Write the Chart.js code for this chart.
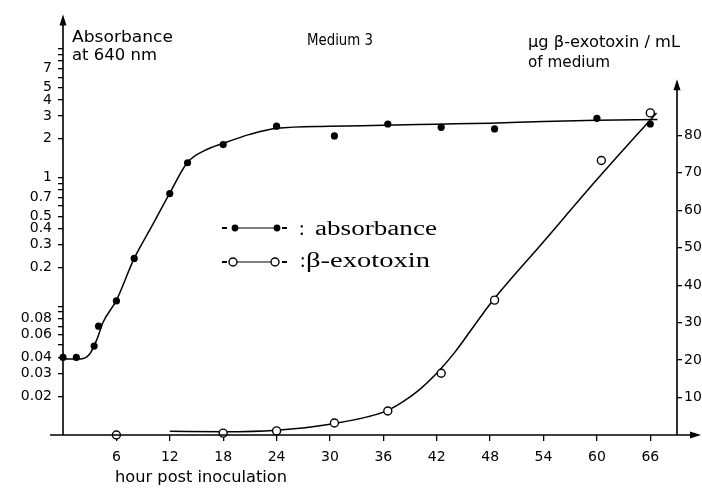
<!DOCTYPE html>
<html>
<head>
<meta charset="utf-8">
<script src="https://cdn.jsdelivr.net/npm/chart.js@4.4.0/dist/chart.umd.min.js"></script>
<style>
  html, body { margin: 0; padding: 0; background: #fff; }
  #wrap { width: 702px; height: 488px; }
</style>
</head>
<body>
<div id="wrap"><canvas id="chart" width="702" height="488"></canvas></div>
<script>
// absorbance readings (filled dots), left log axis
var absHours = [0, 1.5, 3.5, 4, 6, 8, 12, 14, 18, 24, 30.5, 36.5, 42.5, 48.5, 60, 66];
var absValues = [0.04, 0.04, 0.049, 0.07, 0.11, 0.235, 0.75, 1.3, 1.8, 2.5, 2.1, 2.6, 2.45, 2.38, 2.88, 2.6];

// the hand drawn absorbance curve
var absCurveHours = [0, 2, 3, 3.8, 4.5, 6, 8, 10, 12, 14, 16, 18, 21, 24, 30, 36, 42, 48, 54, 60, 66.8];
var absCurveValues = [0.039, 0.039, 0.0425, 0.055, 0.075, 0.111, 0.235, 0.42, 0.755, 1.31, 1.63, 1.84, 2.16, 2.41, 2.5, 2.54, 2.59, 2.64, 2.72, 2.78, 2.82];

// beta-exotoxin readings (open circles), right axis
var toxHours = [6, 18, 24, 30.5, 36.5, 42.5, 48.5, 60.5, 66];
var toxValues = [0, 0.5, 1.1, 3.2, 6.4, 16.5, 36, 73.3, 86];

// the exotoxin curve
var toxCurveHours = [12, 18, 24, 30, 36, 38, 40, 42, 44, 46, 48, 54, 60, 66.7];
var toxCurveValues = [1.0, 0.9, 1.3, 2.9, 6.1, 8.6, 12, 16.5, 22, 28.5, 35, 51.6, 68.2, 86];

// ticks
var hourTicks = [6, 12, 18, 24, 30, 36, 42, 48, 54, 60, 66];
var absTicks = [0.02, 0.03, 0.04, 0.05, 0.06, 0.07, 0.08, 0.09, 0.1,
                0.2, 0.3, 0.4, 0.5, 0.6, 0.7, 0.8, 0.9, 1,
                2, 3, 4, 5, 6, 7, 8, 9, 10];
var absTickLabels = ['0.02', '0.03', '0.04', '0.06', '0.08', '0.2', '0.3', '0.4', '0.5', '0.7',
                     '1', '2', '3', '4', '5', '7'];
var toxTicks = [10, 20, 30, 40, 50, 60, 70, 80];

var rightAxisEnd = 95;

var pairs = function (xs, ys) {
    return xs.map(function (x, i) { return {x: x, y: ys[i]}; });
};

var asTicks = function (list) {
    return function (scale) {
        scale.ticks = list.map(function (v) { return {value: v}; });
    };
};

// draw text squeezed/stretched to a given width
var fitText = function (ctx, str, x, y, font, width, align) {
    ctx.save();
    ctx.font = font;
    var w = ctx.measureText(str).width;
    var sx = width ? width / w : 1;
    ctx.translate(x, y);
    ctx.scale(sx, 1);
    ctx.textBaseline = 'alphabetic';
    ctx.textAlign = 'left';
    var dx = 0;
    if (align === 'center') dx = -w / 2;
    ctx.fillText(str, dx, 0);
    ctx.restore();
};

var arrowHead = function (ctx, x, y, dir) {
    ctx.beginPath();
    if (dir === 'up') {
        ctx.moveTo(x, y);
        ctx.lineTo(x - 3.5, y + 11);
        ctx.lineTo(x + 3.5, y + 11);
    } else {
        ctx.moveTo(x, y);
        ctx.lineTo(x - 11, y - 3.5);
        ctx.lineTo(x - 11, y + 3.5);
    }
    ctx.closePath();
    ctx.fill();
};

var figurePlugin = {
    id: 'figure',
    beforeDraw: function (chart) {
        var ctx = chart.ctx;
        ctx.save();
        ctx.fillStyle = '#fff';
        ctx.fillRect(0, 0, chart.width, chart.height);
        ctx.restore();
    },
    afterDraw: function (chart) {
        var ctx = chart.ctx;
        var a = chart.chartArea;
        var topR = chart.scales.yR.getPixelForValue(rightAxisEnd);
        ctx.save();
        ctx.strokeStyle = '#000';
        ctx.fillStyle = '#000';
        ctx.lineWidth = 1.6;

        ctx.beginPath();
        ctx.moveTo(a.left, a.bottom);
        ctx.lineTo(a.left, a.top + 6);
        ctx.moveTo(a.left - 13, a.bottom);
        ctx.lineTo(a.right + 16, a.bottom);
        ctx.moveTo(a.right, a.bottom);
        ctx.lineTo(a.right, topR + 6);
        ctx.stroke();
        arrowHead(ctx, a.left, a.top, 'up');
        arrowHead(ctx, a.right, topR, 'up');
        arrowHead(ctx, a.right + 24, a.bottom, 'right');

        var sans = '15px "DejaVu Sans"';
        fitText(ctx, 'Absorbance', 72, 42, sans, 101);
        fitText(ctx, 'at 640 nm', 72, 60, sans, 85);
        fitText(ctx, 'Medium 3', 340, 45, sans, 66, 'center');
        fitText(ctx, '\u00b5g \u03b2-exotoxin / mL', 528, 47, sans, 152);
        fitText(ctx, 'of medium', 528, 67, sans, 82);
        fitText(ctx, 'hour post inoculation', 115, 482, sans, 172);

        // legend
        ctx.lineWidth = 2;
        ctx.beginPath();
        ctx.moveTo(222, 228); ctx.lineTo(227, 228);
        ctx.moveTo(282, 228); ctx.lineTo(287, 228);
        ctx.moveTo(222, 262); ctx.lineTo(227, 262);
        ctx.moveTo(282, 262); ctx.lineTo(287, 262);
        ctx.stroke();
        ctx.lineWidth = 1;
        ctx.beginPath();
        ctx.moveTo(238, 228); ctx.lineTo(274, 228);
        ctx.moveTo(237, 262); ctx.lineTo(271, 262);
        ctx.stroke();
        ctx.beginPath();
        ctx.arc(235, 228, 3.4, 0, Math.PI * 2);
        ctx.arc(277, 228, 3.4, 0, Math.PI * 2);
        ctx.fill();
        ctx.lineWidth = 1.4;
        ctx.beginPath();
        ctx.arc(233, 262, 4, 0, Math.PI * 2);
        ctx.stroke();
        ctx.beginPath();
        ctx.arc(275, 262, 4, 0, Math.PI * 2);
        ctx.stroke();

        var serif = '20px "Liberation Serif"';
        fitText(ctx, ':', 299, 235, serif);
        fitText(ctx, 'absorbance', 315, 235, serif, 122);
        fitText(ctx, ':', 300, 267, serif);
        fitText(ctx, '\u03b2-exotoxin', 306, 267, serif, 124);
        ctx.restore();
    }
};

var tickGrid = function (len) {
    return {drawOnChartArea: false, drawTicks: true, tickLength: len, color: '#000', lineWidth: 1.3};
};

Chart.defaults.font.family = '"DejaVu Sans"';
Chart.defaults.color = '#000';

var ctx = document.getElementById('chart').getContext('2d');

new Chart(ctx, {
    type: 'line',
    data: {
        datasets: [
            {
                label: 'absorbance',
                data: pairs(absHours, absValues),
                yAxisID: 'yL',
                showLine: false,
                pointRadius: 3.6,
                pointBackgroundColor: '#000',
                pointBorderWidth: 0,
                clip: false
            },
            {
                label: 'beta-exotoxin',
                data: pairs(toxHours, toxValues),
                yAxisID: 'yR',
                showLine: false,
                pointRadius: 4,
                pointBackgroundColor: '#fff',
                pointBorderColor: '#000',
                pointBorderWidth: 1.4,
                clip: false
            },
            {
                label: 'absorbance curve',
                data: pairs(absCurveHours, absCurveValues),
                yAxisID: 'yL',
                borderColor: '#000',
                borderWidth: 1.5,
                pointRadius: 0,
                cubicInterpolationMode: 'monotone',
                fill: false,
                clip: false
            },
            {
                label: 'exotoxin curve',
                data: pairs(toxCurveHours, toxCurveValues),
                yAxisID: 'yR',
                borderColor: '#000',
                borderWidth: 1.5,
                pointRadius: 0,
                cubicInterpolationMode: 'monotone',
                fill: false,
                clip: false
            }
        ]
    },
    options: {
        responsive: false,
        animation: false,
        layout: {padding: {top: 14, left: 0, right: 0, bottom: 0}},
        plugins: {legend: {display: false}, tooltip: {enabled: false}},
        scales: {
            x: {
                type: 'linear',
                min: 0,
                max: 69,
                bounds: 'data',
                afterBuildTicks: asTicks(hourTicks),
                afterFit: function (s) { s.height = 53; },
                grid: tickGrid(6),
                border: {display: false},
                ticks: {font: {size: 14}, padding: 8, maxRotation: 0, autoSkip: false}
            },
            yL: {
                type: 'logarithmic',
                position: 'left',
                min: 0.01,
                max: 18.45,
                bounds: 'data',
                afterBuildTicks: asTicks(absTicks),
                afterFit: function (s) { s.width = 63; },
                grid: tickGrid(5),
                border: {display: false},
                ticks: {
                    font: {size: 14},
                    padding: 6,
                    autoSkip: false,
                    callback: function (v) {
                        var s = String(v);
                        return absTickLabels.indexOf(s) >= 0 ? s : '';
                    }
                }
            },
            yR: {
                type: 'linear',
                position: 'right',
                min: 0,
                max: 112.3,
                bounds: 'data',
                afterBuildTicks: asTicks(toxTicks),
                afterFit: function (s) { s.width = 25; },
                grid: tickGrid(5),
                border: {display: false},
                ticks: {font: {size: 14}, padding: 2, autoSkip: false}
            }
        }
    },
    plugins: [figurePlugin]
});
</script>
</body>
</html>
